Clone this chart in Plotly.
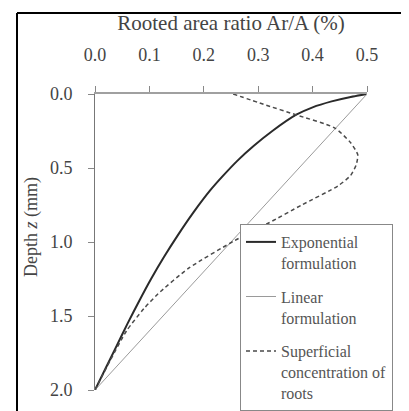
import plotly.graph_objects as go

# depth z (mm) and rooted area ratio Ar/A (%)
depth_exp = [0.0, 0.02, 0.05, 0.09, 0.14, 0.25, 0.35, 0.45, 0.55, 0.65, 0.80, 0.95,
             1.10, 1.25, 1.40, 1.55, 1.70, 1.85, 2.0]
ar_exp = [0.50, 0.47, 0.435, 0.40, 0.37, 0.326, 0.292, 0.262, 0.236, 0.212, 0.181, 0.153,
          0.127, 0.103, 0.081, 0.06, 0.04, 0.02, 0.0]

depth_lin = [0.0, 2.0]
ar_lin = [0.5, 0.0]

depth_sup = [0.0, 0.07, 0.14, 0.23, 0.33, 0.41, 0.48, 0.55, 0.62, 0.75, 0.87, 0.99,
             1.18, 1.35, 1.45, 1.60, 1.80, 2.0]
ar_sup = [0.254, 0.31, 0.369, 0.441, 0.47, 0.483, 0.48, 0.47, 0.447, 0.38, 0.32, 0.257,
          0.171, 0.116, 0.09, 0.058, 0.028, 0.0]

x_ticks = [0.0, 0.1, 0.2, 0.3, 0.4, 0.5]
y_ticks = [0.0, 0.5, 1.0, 1.5, 2.0]

font = "Liberation Serif"

fig = go.Figure()
fig.add_trace(go.Scatter(x=ar_exp, y=depth_exp, mode="lines", legendgroup="a",
                         name="Exponential<br>formulation",
                         line=dict(color="#2a2a2a", width=2, shape="spline", smoothing=0.8)))
fig.add_trace(go.Scatter(x=ar_lin, y=depth_lin, mode="lines", legendgroup="b",
                         name="Linear<br>formulation",
                         line=dict(color="#9a9a9a", width=1)))
fig.add_trace(go.Scatter(x=ar_sup, y=depth_sup, mode="lines", legendgroup="c",
                         name="Superficial<br>concentration of<br>roots",
                         line=dict(color="#4a4a4a", width=1.5, dash="4px,3px",
                                   shape="spline", smoothing=0.6)))

fig.update_layout(
    width=409, height=411,
    margin=dict(l=87, r=50, t=86, b=29, autoexpand=False),
    paper_bgcolor="white", plot_bgcolor="white",
    font=dict(family=font, color="#444", size=18),
    legend=dict(
        x=(232 - 87) / 272, y=(382 - 216) / 296, xanchor="left", yanchor="top",
        xref="paper", yref="paper",
        font=dict(size=16, color="#555"),
        bordercolor="#888", borderwidth=1, bgcolor="white",
        valign="top", tracegroupgap=10, traceorder="grouped",
        itemwidth=30,
    ),
)

fig.update_xaxes(
    range=[0, 0.5], side="top", tickvals=x_ticks, tickformat=".1f", automargin=False,
    showline=True, linecolor="#a0a0a0", linewidth=2,
    ticks="outside", ticklen=6, tickcolor="#888", tickwidth=1, ticklabelstandoff=18,
    showgrid=False, zeroline=False,
    title=dict(text="Rooted area ratio Ar/A (%)", font=dict(size=21), standoff=8),
)
fig.update_yaxes(
    range=[2.0, 0], tickvals=y_ticks, tickformat=".1f", automargin=False,
    showline=True, linecolor="#777", linewidth=1,
    ticks="outside", ticklen=6, tickcolor="#888", tickwidth=1, ticklabelstandoff=12,
    showgrid=False, zeroline=False,
)

# y title sits a little above the middle of the axis
fig.add_annotation(text="Depth <i>z</i> (mm)", xref="paper", yref="paper",
                   x=(23 - 87) / 272, y=(382 - 219) / 296, xanchor="center", yanchor="middle",
                   textangle=-90, showarrow=False, font=dict(size=18, color="#444"))

# outer frame (only top and left edges visible)
fig.add_shape(type="line", xref="paper", yref="paper",
              x0=(9 - 87) / 272, x1=(409 - 87) / 272, y0=(382 - 5) / 296, y1=(382 - 5) / 296,
              line=dict(color="black", width=2))
fig.add_shape(type="line", xref="paper", yref="paper",
              x0=(9 - 87) / 272, x1=(9 - 87) / 272, y0=(382 - 5) / 296, y1=(382 - 411) / 296,
              line=dict(color="black", width=2))

fig.write_html("out.html")
